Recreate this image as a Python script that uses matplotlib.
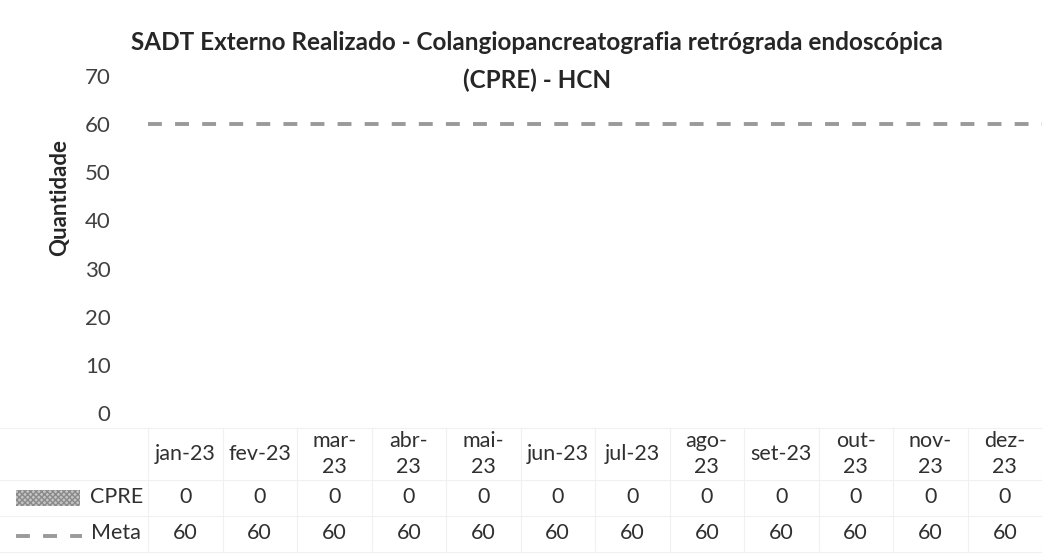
import matplotlib
matplotlib.use("Agg")
import matplotlib.pyplot as plt
import matplotlib.transforms as mtransforms
from matplotlib.patches import Rectangle
from matplotlib.lines import Line2D

categories = ["jan-23", "fev-23", "mar-23", "abr-23", "mai-23", "jun-23",
              "jul-23", "ago-23", "set-23", "out-23", "nov-23", "dez-23"]
cat_labels = ["jan-23", "fev-23", "mar-\n23", "abr-\n23", "mai-\n23", "jun-23",
              "jul-23", "ago-\n23", "set-23", "out-\n23", "nov-\n23", "dez-\n23"]
cpre = [0, 0, 0, 0, 0, 0, 0, 0, 0, 0, 0, 0]
meta = [60, 60, 60, 60, 60, 60, 60, 60, 60, 60, 60, 60]
yticks = [0, 10, 20, 30, 40, 50, 60, 70]

plt.rcParams['font.family'] = ['Lato', 'DejaVu Sans']
plt.rcParams['lines.scale_dashes'] = False

W, H = 1042, 556
fig = plt.figure(figsize=(W / 100, H / 100), dpi=100)

def fx(px):
    return px / W

def fy(py):
    return 1 - py / H

left_px, right_px, top_px, bot_px = 148, 1042, 76, 413
ax = fig.add_axes([fx(left_px), fy(bot_px), fx(right_px - left_px), (bot_px - top_px) / H])
x = list(range(len(categories)))
ax.bar(x, cpre, width=0.6, color='#b0b0b0')
ax.set_xlim(-0.5, len(categories) - 0.5)
ax.set_ylim(0, 70)
ax.set_yticks(yticks)
ax.tick_params(axis='y', length=0, pad=27, labelsize=16, labelcolor='#404040')
ax.set_xticks([])
for s in ax.spines.values():
    s.set_visible(False)

line_color = '#9a9a9a'
ax2 = ax.twiny()
ax2.set_xlim(0, len(categories) - 1)
ax2.plot(x, meta, color=line_color, linewidth=2.8, dashes=(10, 9.5),
         solid_capstyle='butt', dash_capstyle='butt')
ax2.set_xticks([])
for s in ax2.spines.values():
    s.set_visible(False)

# title
fig.text(fx(537), fy(42), "SADT Externo Realizado - Colangiopancreatografia retrógrada endoscópica",
         ha='center', va='center', fontsize=17.5, fontweight='bold', color='#262626')
fig.text(fx(537), fy(80), "(CPRE) - HCN",
         ha='center', va='center', fontsize=17.5, fontweight='bold', color='#262626')

# y label
fig.text(fx(60), fy(198), "Quantidade", rotation=90, ha='center', va='center',
         fontsize=16, fontweight='bold', color='#262626')

# data table
trans = mtransforms.blended_transform_factory(ax.transData, fig.transFigure)
tc = '#303030'
for i, lab in enumerate(cat_labels):
    fig.text(i, fy(454), lab, transform=trans, ha='center', va='center',
             fontsize=15.5, color=tc, linespacing=1.4)
    fig.text(i, fy(497), str(cpre[i]), transform=trans, ha='center', va='center',
             fontsize=15.5, color=tc)
    fig.text(i, fy(533), str(meta[i]), transform=trans, ha='center', va='center',
             fontsize=15.5, color=tc)

# faint grid of table
gc = '#f0f0f0'
for ypx in [428, 480, 516, 552]:
    fig.add_artist(Line2D([fx(0), fx(W)], [fy(ypx), fy(ypx)], color=gc, lw=0.8))
for i in range(len(categories) + 1):
    xv = i - 0.5
    fig.add_artist(Line2D([xv, xv], [fy(428), fy(552)], transform=trans, color=gc, lw=0.8))

# legend keys
fig.add_artist(Rectangle((fx(16), fy(506)), fx(64), 16 / H, facecolor='#c4c4c4',
                         edgecolor='#8a8a8a', hatch='xxxxxx', linewidth=0))
fig.text(fx(90), fy(497), "CPRE", ha='left', va='center', fontsize=15.5, color=tc)
leg_line = Line2D([fx(16), fx(82)], [fy(536), fy(536)], color=line_color, linewidth=2.8,
                  dashes=(10, 9.5), dash_capstyle='butt')
fig.add_artist(leg_line)
fig.text(fx(91), fy(533), "Meta", ha='left', va='center', fontsize=15.5, color=tc)

fig.savefig("out.png", dpi=100)
